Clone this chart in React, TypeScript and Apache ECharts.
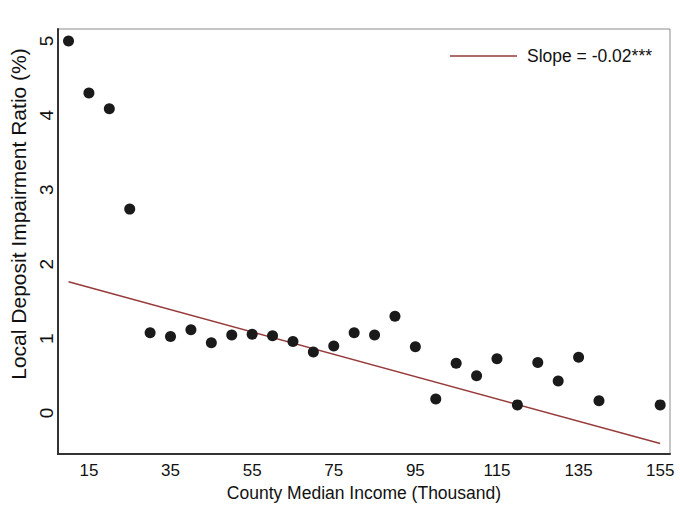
import React, { useEffect, useRef } from "react";
import * as echarts from "echarts";

const incomes = [10, 15, 20, 25, 30, 35, 40, 45, 50, 55, 60, 65, 70, 75, 80, 85, 90, 95, 100, 105, 110, 115, 120, 125, 130, 135, 140, 155];
const ratios = [5.0, 4.3, 4.09, 2.74, 1.08, 1.03, 1.12, 0.945, 1.05, 1.06, 1.04, 0.96, 0.82, 0.9, 1.08, 1.05, 1.3, 0.89, 0.19, 0.67, 0.5, 0.73, 0.11, 0.68, 0.43, 0.75, 0.165, 0.11];
const fitX = [10, 155];
const fitY = [1.765, -0.41];
const xTicks = [15, 35, 55, 75, 95, 115, 135, 155];
const yTicks = [0, 1, 2, 3, 4, 5];
const fitLabel = "Slope = -0.02***";

export default function App() {
  const ref = useRef<HTMLDivElement>(null);
  useEffect(() => {
    document.body.style.margin = "0";
    const chart = echarts.init(ref.current!, null, { renderer: "svg" });
    const font = "Liberation Sans, Arial, sans-serif";
    const fs = 17.5;
    chart.setOption({
      animation: false,
      backgroundColor: "#ffffff",
      textStyle: { fontFamily: font },
      grid: { left: 57, right: 10, top: 29, bottom: 54, show: true, borderColor: "#8c8c8c", borderWidth: 1 },
      legend: {
        data: [{ name: fitLabel, icon: "rect" }],
        right: 23,
        top: 42,
        itemWidth: 67,
        itemHeight: 1.5,
        textStyle: { fontSize: fs, color: "#111", fontFamily: font, padding: [0, 0, 0, 5] },
      },
      xAxis: {
        type: "value",
        min: 7.4,
        max: 157.4,
        name: "County Median Income (Thousand)",
        nameLocation: "middle",
        nameGap: 23,
        nameTextStyle: { fontSize: fs, color: "#111", fontFamily: font },
        axisLine: { show: true, onZero: false, lineStyle: { color: "#333", width: 2 } },
        axisTick: { show: false },
        splitLine: { show: false },
        axisLabel: { customValues: xTicks, fontSize: 17, color: "#111", margin: 8, fontFamily: font },
      },
      yAxis: {
        type: "value",
        min: -0.55,
        max: 5.16,
        name: "Local Deposit Impairment Ratio (%)",
        nameLocation: "middle",
        nameGap: 8,
        nameTextStyle: { fontSize: 21, color: "#111", fontFamily: font, padding: [0, 0, 0, 55] },
        axisLine: { show: true, onZero: false, lineStyle: { color: "#333", width: 2 } },
        axisTick: { show: false },
        splitLine: { show: false },
        axisLabel: { customValues: yTicks, fontSize: 19, color: "#111", rotate: 90, margin: 2, fontFamily: font },
      },
      series: [
        {
          type: "scatter",
          data: incomes.map((x, i) => [x, ratios[i]]),
          symbolSize: 11,
          itemStyle: { color: "#1a1a1a", opacity: 1 },
          z: 3,
        },
        {
          type: "line",
          name: fitLabel,
          data: fitX.map((x, i) => [x, fitY[i]]),
          symbol: "none",
          lineStyle: { color: "#963a3a", width: 1.5 },
          itemStyle: { color: "#963a3a" },
          z: 2,
        },
      ],
    });
    return () => chart.dispose();
  }, []);
  return <div ref={ref} style={{ width: 680, height: 508 }} />;
}
